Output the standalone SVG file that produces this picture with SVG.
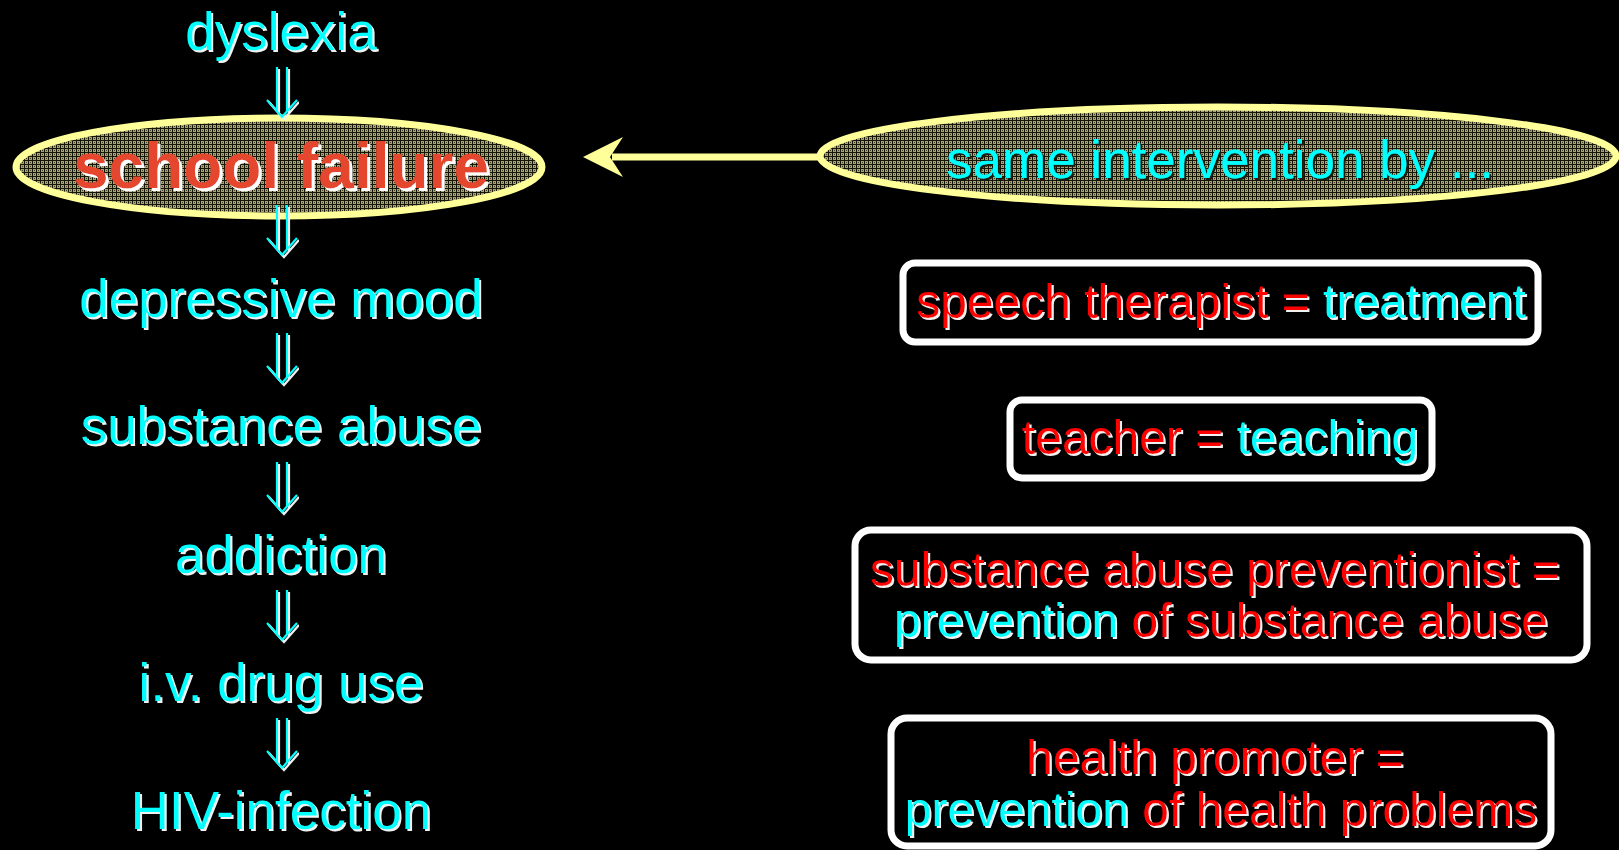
<svg xmlns="http://www.w3.org/2000/svg" width="1619" height="850" viewBox="0 0 1619 850">
<style>
.t{font-family:"Liberation Sans",Arial,sans-serif;font-size:53px;text-anchor:middle;}
.cy{fill:#00ffff;}
.rd{fill:#ff0000;}
.bt{font-family:"Liberation Sans",Arial,sans-serif;font-size:48px;text-anchor:middle;}
.box{fill:#000;stroke:#fff;stroke-width:7;}
.ell{fill:url(#grid);stroke:#ffff99;stroke-width:7;}
.dn{fill:none;stroke:#00ffff;stroke-width:2.2;}
</style>
<defs>
<pattern id="grid" width="4" height="4" patternUnits="userSpaceOnUse">
<rect width="4" height="4" fill="#a8a470"/>
<path d="M0.5 0V4M0 0.5H4" stroke="#141408" stroke-width="1"/>
<rect x="2" y="2" width="1" height="1" fill="#3e3c28"/>
</pattern>
<filter id="sh" x="-5%" y="-20%" width="110%" height="140%">
<feOffset in="SourceAlpha" dx="2" dy="2" result="o"/>
<feFlood flood-color="#f0f0f0"/>
<feComposite in2="o" operator="in" result="s"/>
<feMerge><feMergeNode in="s"/><feMergeNode in="SourceGraphic"/></feMerge>
</filter>
<filter id="sh3" x="-5%" y="-20%" width="110%" height="140%">
<feOffset in="SourceAlpha" dx="3" dy="3" result="o"/>
<feFlood flood-color="#ffffff"/>
<feComposite in2="o" operator="in" result="s"/>
<feMerge><feMergeNode in="s"/><feMergeNode in="SourceGraphic"/></feMerge>
</filter>
<filter id="shd" x="-5%" y="-20%" width="110%" height="140%">
<feOffset in="SourceAlpha" dx="2" dy="2" result="o"/>
<feFlood flood-color="#1a1a10"/>
<feComposite in2="o" operator="in" result="s"/>
<feMerge><feMergeNode in="s"/><feMergeNode in="SourceGraphic"/></feMerge>
</filter>
</defs>
<rect width="1619" height="850" fill="#000"/>

<g id="dyslexia"><text class="t cy" x="281" y="50" filter="url(#sh)">dyslexia</text></g>
<g id="school-failure">
<ellipse class="ell" cx="279" cy="167" rx="263" ry="49"/>
<text x="281" y="188" font-family="'Liberation Sans',Arial,sans-serif" font-size="64" font-weight="bold" text-anchor="middle" fill="#e4472d" filter="url(#sh3)">school failure</text>
</g>
<g id="depressive-mood"><text class="t cy" x="281" y="317" filter="url(#sh)">depressive mood</text></g>
<g id="substance-abuse"><text class="t cy" x="281" y="444" filter="url(#sh)">substance abuse</text></g>
<g id="addiction"><text class="t cy" x="281" y="573" filter="url(#sh)">addiction</text></g>
<g id="iv-drug-use"><text class="t cy" x="281" y="701" filter="url(#sh)">i.v. drug use</text></g>
<g id="hiv-infection"><text class="t cy" x="281" y="829" filter="url(#sh)">HIV-infection</text></g>

<g id="same-intervention">
<ellipse class="ell" cx="1218" cy="156" rx="398" ry="49"/>
<text class="cy" x="1220" y="178" font-family="'Liberation Sans',Arial,sans-serif" font-size="53" text-anchor="middle" filter="url(#shd)">same intervention by ...</text>
</g>

<g id="speech-therapist">
<rect class="box" x="903" y="263" width="635" height="79" rx="12"/>
<text class="bt" x="1221" y="318" filter="url(#sh)"><tspan class="rd">speech therapist = </tspan><tspan class="cy">treatment</tspan></text>
</g>
<g id="teacher">
<rect class="box" x="1010" y="400" width="422" height="78" rx="12"/>
<text class="bt" x="1220" y="454" filter="url(#sh)"><tspan class="rd">teacher = </tspan><tspan class="cy">teaching</tspan></text>
</g>
<g id="substance-abuse-preventionist">
<rect class="box" x="855" y="530" width="732" height="130" rx="16"/>
<text class="bt rd" x="1215" y="586" filter="url(#sh)">substance abuse preventionist =</text>
<text class="bt" x="1221" y="637" filter="url(#sh)"><tspan class="cy">prevention</tspan><tspan class="rd"> of substance abuse</tspan></text>
</g>
<g id="health-promoter">
<rect class="box" x="891" y="718" width="660" height="128" rx="16"/>
<text class="bt rd" x="1215" y="774" filter="url(#sh)">health promoter =</text>
<text class="bt" x="1221" y="826" filter="url(#sh)"><tspan class="cy">prevention</tspan><tspan class="rd"> of health problems</tspan></text>
</g>

<g id="connectors">
<g filter="url(#sh)">
<path class="dn" d="M277 67V112M287 67V112M267 100L282 117L297 100"/>
<path class="dn" d="M277 205V250M287 205V250M267 238L282 255L297 238"/>
<path class="dn" d="M277 333V378M287 333V378M267 366L282 383L297 366"/>
<path class="dn" d="M277 462V507M287 462V507M267 495L282 512L297 495"/>
<path class="dn" d="M277 590V635M287 590V635M267 623L282 640L297 623"/>
<path class="dn" d="M277 718V763M287 718V763M267 751L282 768L297 751"/>
</g>
<line x1="612" y1="157" x2="822" y2="157" stroke="#ffff99" stroke-width="7"/>
<polygon points="583,157 623,137 610,157 623,177" fill="#ffff99"/>
</g>
</svg>
